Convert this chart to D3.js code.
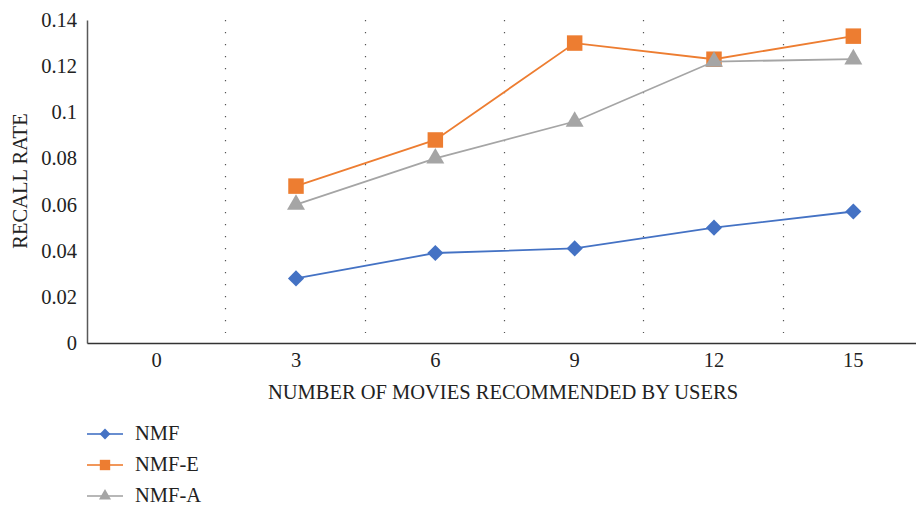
<!DOCTYPE html>
<html>
<head>
<meta charset="utf-8">
<script src="https://cdn.jsdelivr.net/npm/d3@7"></script>
<style>
  html, body { margin: 0; padding: 0; background: #fff; }
  svg { display: block; }
</style>
</head>
<body>
<svg id="chart" width="916" height="507" font-family="Liberation Serif"></svg>
<script>
// Categories on the x axis (number of recommended movies)
const categories = ["0", "3", "6", "9", "12", "15"];
// Recall rate per method (null = no value at that category)
const nmf  = [null, 0.028, 0.039, 0.041, 0.050, 0.057];
const nmfE = [null, 0.068, 0.088, 0.130, 0.123, 0.133];
const nmfA = [null, 0.060, 0.080, 0.096, 0.122, 0.123];
const yTicks = [0, 0.02, 0.04, 0.06, 0.08, 0.1, 0.12, 0.14];

const series = [
  { name: "NMF",   values: nmf,  color: "#4472C4", symbol: d3.symbolSquare,   size: 130, rot: 45 },
  { name: "NMF-E", values: nmfE, color: "#ED7D31", symbol: d3.symbolSquare,   size: 240, rot: 0 },
  { name: "NMF-A", values: nmfA, color: "#A5A5A5", symbol: d3.symbolTriangle, size: 140, rot: 0 }
];

const FONT = 20.5;
const FAMILY = "Liberation Serif";
const svg = d3.select("#chart");
const plotL = 87, plotR = 923, plotT = 20, plotB = 343;

const x = d3.scaleBand().domain(categories).range([plotL, plotR]);
const y = d3.scaleLinear().domain([0, 0.14]).range([plotB, plotT]);

// Dotted separators between categories
svg.append("g").selectAll("line")
  .data(categories.slice(1))
  .join("line")
  .attr("x1", d => Math.round(x(d)) - 0.5)
  .attr("x2", d => Math.round(x(d)) - 0.5)
  .attr("y1", plotT)
  .attr("y2", plotB - 10)
  .attr("stroke", "#555")
  .attr("stroke-width", 1.2)
  .attr("stroke-dasharray", "1.2,10.8");

// Y axis
const yAxis = svg.append("g")
  .attr("transform", `translate(${plotL},0)`)
  .call(d3.axisLeft(y).tickValues(yTicks).tickSize(0).tickPadding(10)
    .tickFormat(d => d === 0 ? "0" : String(+d.toFixed(2))))
  .attr("font-family", FAMILY).attr("font-size", FONT);
yAxis.select(".domain").attr("stroke", "#595959").attr("stroke-width", 1.5);
yAxis.selectAll("text").attr("fill", "#222");

// X axis
const xAxis = svg.append("g")
  .attr("transform", `translate(0,${plotB})`)
  .call(d3.axisBottom(x).tickSize(0).tickPadding(9))
  .attr("font-family", FAMILY).attr("font-size", FONT);
xAxis.select(".domain").attr("stroke", "#333").attr("stroke-width", 1.5);
xAxis.selectAll("text").attr("fill", "#222");

// Axis titles
svg.append("text")
  .attr("x", 503).attr("y", 399)
  .attr("text-anchor", "middle")
  .attr("font-family", FAMILY).attr("font-size", FONT).attr("fill", "#222")
  .text("NUMBER OF MOVIES RECOMMENDED BY USERS");
svg.append("text")
  .attr("transform", "translate(27,181) rotate(-90)")
  .attr("text-anchor", "middle")
  .attr("font-family", FAMILY).attr("font-size", FONT).attr("fill", "#222")
  .text("RECALL RATE");

const cx = d => x(d) + x.bandwidth() / 2;

// Lines and markers
series.forEach(s => {
  const pts = categories.map((c, i) => ({ c, v: s.values[i] })).filter(p => p.v != null);
  const line = d3.line().x(p => cx(p.c)).y(p => y(p.v));
  svg.append("path")
    .datum(pts)
    .attr("d", line)
    .attr("fill", "none")
    .attr("stroke", s.color)
    .attr("stroke-width", 1.8);
  svg.append("g").selectAll("path")
    .data(pts)
    .join("path")
    .attr("d", d3.symbol(s.symbol, s.size))
    .attr("transform", p => `translate(${cx(p.c)},${y(p.v)}) rotate(${s.rot})`)
    .attr("fill", s.color);
});

// Legend
const legend = svg.append("g");
series.forEach((s, i) => {
  const gy = 434 + i * 31;
  legend.append("line")
    .attr("x1", 87).attr("x2", 123).attr("y1", gy).attr("y2", gy)
    .attr("stroke", s.color).attr("stroke-width", 1.8).attr("stroke-opacity", 0.8);
  legend.append("path")
    .attr("d", d3.symbol(s.symbol, s.size * 0.45))
    .attr("transform", `translate(105,${gy}) rotate(${s.rot})`)
    .attr("fill", s.color);
  legend.append("text")
    .attr("x", 135).attr("y", gy + 6)
    .attr("font-family", FAMILY).attr("font-size", FONT).attr("fill", "#222")
    .text(s.name);
});
</script>
</body>
</html>
